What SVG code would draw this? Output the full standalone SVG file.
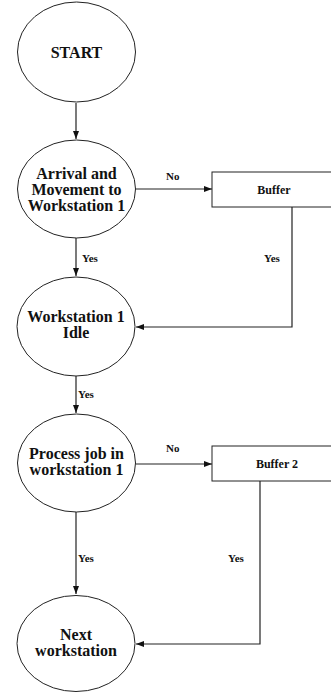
<svg xmlns="http://www.w3.org/2000/svg" width="331" height="692" viewBox="0 0 331 692">
<defs>
<marker id="arr" markerWidth="8" markerHeight="6" refX="8" refY="3" orient="auto" markerUnits="userSpaceOnUse">
<path d="M0,0 L8,3 L0,6 Z" fill="#111"/>
</marker>
<style>
.n{fill:#fff;stroke:#222;stroke-width:1}
.t{font-family:"Liberation Serif","Times New Roman",serif;font-weight:bold;font-size:16px;fill:#111;text-anchor:middle}
.s{font-family:"Liberation Serif","Times New Roman",serif;font-weight:bold;font-size:12px;fill:#111;text-anchor:middle}
.l{font-family:"Liberation Serif","Times New Roman",serif;font-weight:bold;font-size:11px;fill:#111}
.c{fill:none;stroke:#222;stroke-width:1.2;marker-end:url(#arr)}
</style>
</defs>
<rect width="331" height="692" fill="#fff"/>
<g id="connectors">
<line class="c" x1="76" y1="103" x2="76" y2="139"/>
<line class="c" x1="136" y1="189" x2="212" y2="189"/>
<polyline class="c" points="292,207 292,327 136,327"/>
<line class="c" x1="76" y1="238" x2="76" y2="276"/>
<line class="c" x1="76" y1="376" x2="76" y2="413"/>
<line class="c" x1="136" y1="464" x2="212" y2="464"/>
<polyline class="c" points="260,481 260,644 136,644"/>
<line class="c" x1="76" y1="512" x2="76" y2="594"/>
<text class="l" x="166" y="180">No</text>
<text class="l" x="82" y="262">Yes</text>
<text class="l" x="264" y="262">Yes</text>
<text class="l" x="78" y="398">Yes</text>
<text class="l" x="166" y="452">No</text>
<text class="l" x="78" y="562">Yes</text>
<text class="l" x="228" y="562">Yes</text>
</g>
<g id="start">
<ellipse class="n" cx="76.5" cy="52" rx="59" ry="50"/>
<text class="t" x="76.5" y="58">START</text>
</g>
<g id="arrival">
<ellipse class="n" cx="76.5" cy="189" rx="59" ry="49"/>
<text class="t" x="76.5" y="179">Arrival and</text>
<text class="t" x="76.5" y="195">Movement to</text>
<text class="t" x="76.5" y="211">Workstation 1</text>
</g>
<g id="buffer">
<rect class="n" x="212" y="172" width="125" height="35"/>
<text class="s" x="274" y="194">Buffer</text>
</g>
<g id="idle">
<ellipse class="n" cx="76" cy="326.5" rx="59" ry="49.5"/>
<text class="t" x="76" y="322">Workstation 1</text>
<text class="t" x="76" y="338">Idle</text>
</g>
<g id="process">
<ellipse class="n" cx="76.5" cy="463" rx="59" ry="49"/>
<text class="t" x="76.5" y="459">Process job in</text>
<text class="t" x="76.5" y="475">workstation 1</text>
</g>
<g id="buffer2">
<rect class="n" x="212" y="446" width="125" height="35"/>
<text class="s" x="277" y="468">Buffer 2</text>
</g>
<g id="next">
<ellipse class="n" cx="76" cy="643.5" rx="59" ry="48"/>
<text class="t" x="76" y="640">Next</text>
<text class="t" x="76" y="656">workstation</text>
</g>
</svg>
